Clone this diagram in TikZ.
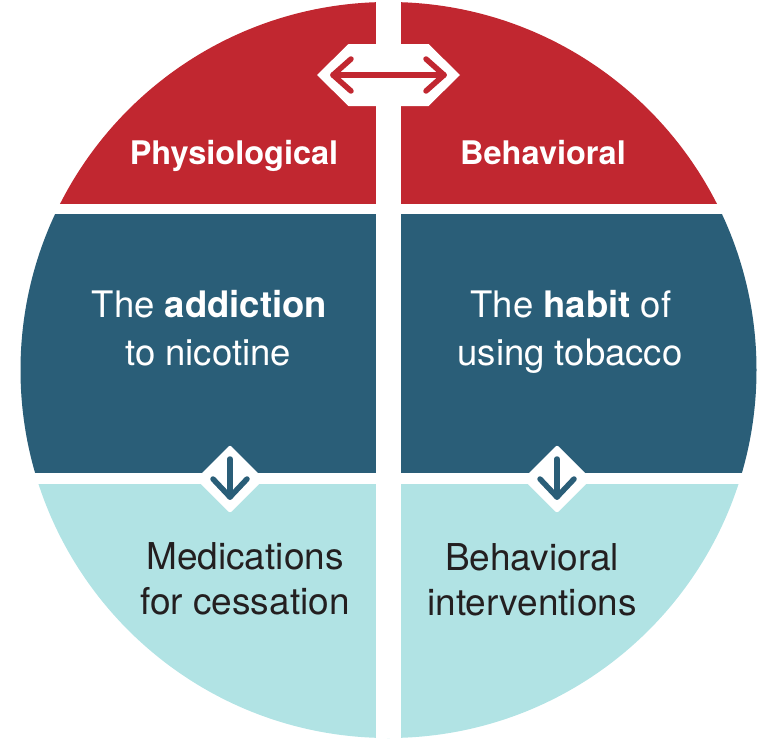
\documentclass[tikz,border=0pt]{standalone}
\usepackage{fontspec}
\setmainfont{TeX Gyre Heros}
\usetikzlibrary{positioning}
\definecolor{physred}{RGB}{193,39,48}
\definecolor{habitblue}{RGB}{42,94,120}
\definecolor{treatteal}{RGB}{177,227,228}
\definecolor{ink}{RGB}{35,31,32}
\tikzset{
  every picture/.style={x=1pt, y=-1pt},
  head/.style={font=\fontsize{32.5}{36}\selectfont\bfseries, text=white, anchor=base, inner sep=0pt},
  mid/.style={font=\fontsize{36.5}{44}\selectfont, text=white, anchor=base, inner sep=0pt},
  low/.style={font=\fontsize{37}{44}\selectfont, text=ink, anchor=base, inner sep=0pt},
  badge/.style={fill=white, draw=none},
  tick/.style={line width=5.5pt, line cap=round, line join=round},
}

\begin{document}
\begin{tikzpicture}
  \useasboundingbox (0,0) rectangle (758,739);
  \coordinate (c) at (388.5,370);
  % the disc, cut into three bands and two halves
  \begin{scope}
    \clip (c) circle[radius=368pt];
    \fill[physred] (0,0) rectangle (758,204);
    \fill[habitblue] (0,214) rectangle (758,473);
    \fill[treatteal] (0,484) rectangle (758,739);
    \fill[white] (376,0) rectangle (400.5,739);
  \end{scope}
  % two-way badge on top
  \fill[badge] (317,75) -- (348.5,44) -- (428.5,44) -- (460,75) -- (428.5,106) -- (348.5,106) -- cycle;
  \draw[tick, physred] (333,75) -- (444,75);
  \draw[tick, physred] (351,59) -- (333,75) -- (351,91);
  \draw[tick, physred] (426,59) -- (444,75) -- (426,91);
  % down badges
  \foreach \bx in {230,557} {
    \fill[badge, rounded corners=2pt] (\bx,445) -- (\bx+34,479) -- (\bx,513) -- (\bx-34,479) -- cycle;
    \draw[tick, habitblue] (\bx,459) -- (\bx,497);
    \draw[tick, habitblue] (\bx-17,479) -- (\bx,497) -- (\bx+17,479);
  }
  % headers
  \node[head] (phys) at (234,164) {Physiological};
  \node[head] (behav) at (543,164) {Behavioral};
  % what is treated
  \node[mid] (addict) at (209.5,317) {The \textbf{addiction}};
  \node[mid] (nicotine) at (208,365) {to nicotine};
  \node[mid] (habit) at (571,317) {The \textbf{habit} of};
  \node[mid] (tobacco) at (570,365) {using tobacco};
  % how it is treated
  \node[low] (meds) at (245,569) {Medications};
  \node[low] (cess) at (245,614) {for cessation};
  \node[low] (behint) at (532,570) {Behavioral};
  \node[low] (interv) at (532,615) {interventions};
\end{tikzpicture}
\end{document}
